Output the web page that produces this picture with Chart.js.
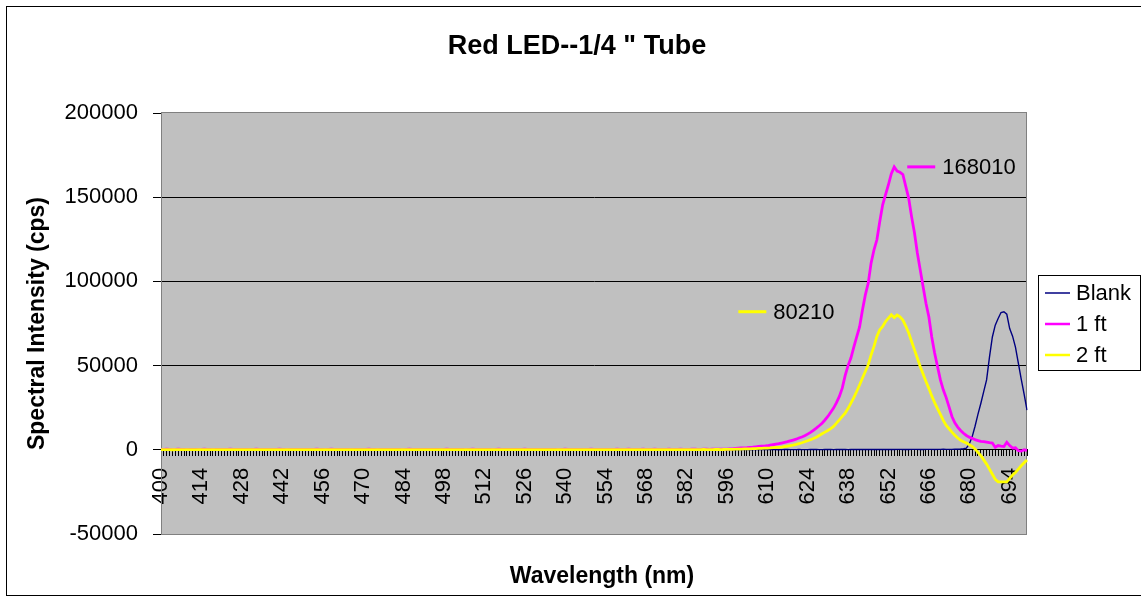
<!DOCTYPE html>
<html>
<head>
<meta charset="utf-8">
<title>Red LED--1/4 " Tube</title>
<script src="https://cdn.jsdelivr.net/npm/chart.js@4.4.1/dist/chart.umd.min.js"></script>
<style>
  html, body { margin: 0; padding: 0; background: #fff; }
  #chart { display: block; }
</style>
</head>
<body>
<canvas id="chart" width="1141" height="602"></canvas>
<script>
// wavelength categories (nm), one per reading
var wavelengths = [
  400, 401, 402, 403, 404, 405, 406, 407, 408, 409,
  410, 411, 412, 413, 414, 415, 416, 417, 418, 419,
  420, 421, 422, 423, 424, 425, 426, 427, 428, 429,
  430, 431, 432, 433, 434, 435, 436, 437, 438, 439,
  440, 441, 442, 443, 444, 445, 446, 447, 448, 449,
  450, 451, 452, 453, 454, 455, 456, 457, 458, 459,
  460, 461, 462, 463, 464, 465, 466, 467, 468, 469,
  470, 471, 472, 473, 474, 475, 476, 477, 478, 479,
  480, 481, 482, 483, 484, 485, 486, 487, 488, 489,
  490, 491, 492, 493, 494, 495, 496, 497, 498, 499,
  500, 501, 502, 503, 504, 505, 506, 507, 508, 509,
  510, 511, 512, 513, 514, 515, 516, 517, 518, 519,
  520, 521, 522, 523, 524, 525, 526, 527, 528, 529,
  530, 531, 532, 533, 534, 535, 536, 537, 538, 539,
  540, 541, 542, 543, 544, 545, 546, 547, 548, 549,
  550, 551, 552, 553, 554, 555, 556, 557, 558, 559,
  560, 561, 562, 563, 564, 565, 566, 567, 568, 569,
  570, 571, 572, 573, 574, 575, 576, 577, 578, 579,
  580, 581, 582, 583, 584, 585, 586, 587, 588, 589,
  590, 591, 592, 593, 594, 595, 596, 597, 598, 599,
  600, 601, 602, 603, 604, 605, 606, 607, 608, 609,
  610, 611, 612, 613, 614, 615, 616, 617, 618, 619,
  620, 621, 622, 623, 624, 625, 626, 627, 628, 629,
  630, 631, 632, 633, 634, 635, 636, 637, 638, 639,
  640, 641, 642, 643, 644, 645, 646, 647, 648, 649,
  650, 651, 652, 653, 654, 655, 656, 657, 658, 659,
  660, 661, 662, 663, 664, 665, 666, 667, 668, 669,
  670, 671, 672, 673, 674, 675, 676, 677, 678, 679,
  680, 681, 682, 683, 684, 685, 686, 687, 688, 689,
  690, 691, 692, 693, 694, 695, 696, 697, 698, 699,
  700
];

// only these categories get a label on the x axis
var tickLabels = [400, 414, 428, 442, 456, 470, 484, 498, 512, 526, 540,
                  554, 568, 582, 596, 610, 624, 638, 652, 666, 680, 694];

// Blank
var blank = [
  120, 80, 150, 200, 90, 60, 140, 180, 110, 70,
  130, 160, 90, 50, 120, 170, 140, 100, 60, 110,
  150, 190, 120, 80, 100, 140, 170, 130, 90, 60,
  110, 150, 180, 120, 70, 90, 140, 160, 110, 80,
  120, 170, 130, 90, 60, 100, 150, 180, 140, 90,
  70, 110, 160, 130, 80, 100, 150, 120, 90, 60,
  100, 140, 170, 120, 80, 110, 150, 130, 90, 70,
  120, 160, 140, 100, 60, 90, 130, 170, 120, 80,
  110, 150, 130, 90, 70, 120, 160, 140, 100, 60,
  90, 130, 170, 120, 80, 110, 150, 130, 90, 70,
  120, 160, 140, 100, 70, 90, 130, 160, 120, 80,
  110, 140, 170, 130, 90, 60, 100, 150, 120, 90,
  70, 110, 150, 130, 90, 120, 160, 140, 100, 70,
  90, 130, 160, 120, 80, 110, 150, 130, 90, 60,
  100, 140, 170, 120, 90, 70, 110, 150, 130, 90,
  120, 160, 140, 100, 70, 90, 130, 160, 120, 80,
  110, 150, 130, 90, 60, 100, 140, 170, 120, 90,
  70, 110, 150, 130, 90, 120, 160, 140, 100, 70,
  90, 130, 160, 120, 80, 110, 150, 130, 90, 60,
  100, 140, 170, 120, 90, 70, 110, 150, 130, 90,
  120, 160, 140, 100, 70, 90, 130, 160, 120, 80,
  110, 150, 130, 90, 60, 100, 140, 170, 120, 90,
  130, 160, 120, 90, 110, 150, 180, 140, 100, 120,
  150, 190, 160, 120, 140, 180, 210, 170, 130, 160,
  190, 220, 180, 150, 170, 210, 240, 200, 160, 190,
  220, 250, 210, 180, 200, 240, 260, 220, 190, 210,
  240, 270, 230, 200, 220, 260, 280, 240, 210, 230,
  260, 290, 250, 230, 260, 300, 350, 450, 600, 1000,
  3500, 7700, 14000, 21000, 27500, 34500, 41500, 55000, 67000, 74000,
  78000, 81500, 82000, 80500, 72000, 67500, 61000, 51500, 42000, 33000,
  23500
];

// 1 ft
var oneFoot = [
  250, 180, 320, 280, 150, 210, 340, 260, 190, 130,
  230, 300, 270, 160, 220, 350, 290, 200, 140, 240,
  310, 260, 180, 230, 330, 280, 170, 210, 300, 250,
  190, 140, 260, 320, 240, 170, 220, 310, 270, 180,
  230, 340, 290, 200, 150, 250, 310, 260, 190, 220,
  300, 240, 170, 210, 330, 280, 190, 150, 260, 320,
  250, 180, 220, 310, 270, 200, 140, 240, 300, 260,
  190, 230, 320, 280, 210, 160, 250, 310, 240, 180,
  220, 300, 270, 190, 150, 260, 330, 280, 200, 230,
  310, 250, 180, 220, 300, 260, 190, 140, 240, 320,
  270, 200, 230, 310, 250, 180, 160, 260, 330, 280,
  210, 240, 300, 260, 190, 150, 250, 320, 270, 200,
  230, 310, 280, 210, 170, 260, 330, 290, 220, 180,
  250, 300, 260, 190, 220, 310, 280, 200, 160, 240,
  320, 270, 210, 240, 300, 260, 190, 150, 250, 330,
  290, 220, 260, 310, 270, 200, 170, 240, 320, 280,
  230, 260, 330, 290, 220, 180, 260, 340, 300, 240,
  270, 320, 290, 230, 200, 280, 350, 310, 260, 290,
  340, 310, 260, 300, 360, 330, 280, 310, 370, 340,
  300, 350, 390, 360, 320, 380, 400, 500, 600, 800,
  1000, 1100, 1200, 1300, 1500, 1600, 1800, 2000, 2100, 2200,
  2400, 2700, 3000, 3300, 3600, 4000, 4400, 4800, 5300, 5800,
  6300, 7000, 7600, 8300, 9300, 10300, 11600, 12900, 14300, 15800,
  17700, 19800, 22300, 24800, 28000, 31700, 36600, 44000, 50000, 54500,
  61000, 67000, 73000, 83000, 92000, 99000, 111000, 118800, 124700, 135600,
  145500, 151500, 157400, 164000, 168010, 165500, 164800, 163500, 156400, 149500,
  138600, 129000, 117000, 107000, 97000, 87000, 79000, 67000, 57500, 49500,
  41500, 35600, 31000, 25500, 19800, 16000, 13500, 11500, 9800, 8500,
  7500, 6800, 6000, 5500, 5000, 4800, 4500, 4200, 4000, 1500,
  2500, 2200, 2000, 4500, 2500, 1000, 1200, -500, -800, 0,
  -300
];

// 2 ft
var twoFeet = [
  90, 60, 120, 80, 40, 110, 70, 50, 100, 60,
  80, 120, 90, 50, 70, 110, 130, 80, 60, 90,
  120, 70, 50, 100, 140, 90, 60, 80, 120, 100,
  70, 50, 90, 130, 110, 60, 80, 120, 90, 50,
  80, 130, 100, 70, 50, 90, 120, 80, 60, 100,
  130, 90, 60, 80, 120, 100, 70, 50, 90, 130,
  100, 60, 80, 120, 90, 70, 50, 100, 130, 90,
  60, 80, 120, 100, 70, 50, 90, 130, 100, 60,
  80, 120, 90, 60, 50, 100, 130, 90, 70, 80,
  120, 100, 60, 80, 130, 90, 70, 50, 100, 120,
  90, 60, 80, 130, 100, 70, 50, 90, 120, 100,
  70, 90, 130, 100, 60, 50, 90, 120, 110, 70,
  80, 120, 100, 70, 50, 100, 130, 90, 60, 80,
  110, 130, 90, 60, 80, 120, 100, 70, 50, 90,
  130, 100, 70, 90, 120, 100, 60, 50, 90, 130,
  110, 80, 100, 130, 100, 70, 60, 90, 130, 110,
  80, 100, 140, 110, 80, 70, 100, 140, 120, 90,
  110, 140, 120, 90, 80, 120, 150, 130, 110, 130,
  150, 130, 110, 130, 160, 150, 120, 140, 170, 150,
  140, 160, 180, 170, 150, 180, 200, 250, 300, 350,
  400, 450, 500, 550, 600, 650, 700, 800, 900, 950,
  1000, 1100, 1250, 1400, 1500, 1600, 1900, 2200, 2500, 2800,
  3200, 3700, 4200, 4800, 5400, 6000, 6700, 7500, 8500, 9500,
  10500, 11500, 12600, 13900, 15800, 17800, 19800, 21800, 24500, 27700,
  31000, 34600, 38500, 42600, 46500, 50500, 56400, 61400, 67300, 71300,
  73200, 76200, 78200, 80210, 78500, 80000, 79000, 77000, 73500, 69500,
  64500, 59500, 54500, 49500, 45000, 40500, 36500, 32000, 28000, 24500,
  21000, 17500, 14500, 12500, 10500, 8700, 7000, 5700, 4800, 4000,
  3000, 2000, 500, -1500, -3500, -6000, -8500, -11500, -14500, -17500,
  -19000, -19000, -19000, -19000, -17000, -15000, -13500, -11500, -9500, -7700,
  -6000
];

var chartTitle = 'Red LED--1/4 " Tube';
var xTitle = 'Wavelength (nm)';
var yTitle = 'Spectral Intensity (cps)';

var FONT = '"Liberation Sans", Arial, Helvetica, sans-serif';
Chart.defaults.font.family = FONT;
Chart.defaults.color = '#000';

// grey plot area, frame, titles, legend and the two peak call-outs
var excelLook = {
    id: 'excelLook',
    beforeDraw: function (chart) {
        var ctx = chart.ctx, a = chart.chartArea;
        ctx.save();
        ctx.fillStyle = '#fff';
        ctx.fillRect(0, 0, chart.width, chart.height);
        ctx.fillStyle = '#c0c0c0';
        ctx.fillRect(a.left, a.top, a.right - a.left, a.bottom - a.top);
        ctx.restore();
    },
    beforeDatasetsDraw: function (chart) {
        var ctx = chart.ctx, a = chart.chartArea;
        ctx.save();
        ctx.strokeStyle = '#808080';
        ctx.lineWidth = 1;
        ctx.strokeRect(Math.round(a.left) + 0.5, Math.round(a.top) - 0.5,
                       Math.round(a.right - a.left) - 1, Math.round(a.bottom - a.top) + 1);
        ctx.restore();
    },
    afterDraw: function (chart) {
        var ctx = chart.ctx, a = chart.chartArea;
        var xs = chart.scales.x, ys = chart.scales.y;
        ctx.save();

        // outer chart frame
        ctx.strokeStyle = '#000';
        ctx.lineWidth = 1;
        ctx.strokeRect(6.5, 6.5, chart.width + 10, chart.height - 13);

        // titles
        ctx.fillStyle = '#000';
        ctx.textAlign = 'center';
        ctx.textBaseline = 'middle';
        ctx.font = 'bold 27px ' + FONT;
        ctx.fillText(chartTitle, 577, 47);
        ctx.font = 'bold 23px ' + FONT;
        ctx.fillText(xTitle, 602, 577);

        // peak call-outs
        ctx.font = '22px ' + FONT;
        ctx.textAlign = 'left';
        var callouts = [
            { ds: 1, dx: 13, dy: 0 },
            { ds: 2, dx: -153, dy: -3 }
        ];
        callouts.forEach(function (c) {
            var d = chart.data.datasets[c.ds];
            var peak = Math.max.apply(null, d.data);
            var i = d.data.indexOf(peak);
            var px = xs.getPixelForValue(i) + c.dx;
            var py = ys.getPixelForValue(peak) + c.dy;
            ctx.strokeStyle = d.borderColor;
            ctx.lineWidth = 3;
            ctx.beginPath();
            ctx.moveTo(px, py);
            ctx.lineTo(px + 28, py);
            ctx.stroke();
            ctx.fillStyle = '#000';
            ctx.fillText(String(peak), px + 35, py + 1);
        });

        // legend
        var lx = 1038, ly = 275, lw = 102, lh = 95;
        ctx.fillStyle = '#fff';
        ctx.fillRect(lx, ly, lw, lh);
        ctx.strokeStyle = '#000';
        ctx.lineWidth = 1;
        ctx.strokeRect(lx + 0.5, ly + 0.5, lw, lh);
        chart.data.datasets.forEach(function (d, k) {
            var ry = ly + 18 + k * 31;
            ctx.strokeStyle = d.borderColor;
            ctx.lineWidth = k === 0 ? 1.5 : 2.5;
            ctx.beginPath();
            ctx.moveTo(lx + 7, ry);
            ctx.lineTo(lx + 32, ry);
            ctx.stroke();
            ctx.fillStyle = '#000';
            ctx.fillText(d.label, lx + 38, ry + 1);
        });
        ctx.restore();
    }
};

var ctx = document.getElementById('chart').getContext('2d');
var spectrumChart = new Chart(ctx, {
    type: 'line',
    data: {
        labels: wavelengths,
        datasets: [{
                label: 'Blank',
                data: blank,
                borderColor: '#000080',
                borderWidth: 1.4,
                order: 3
            },
            {
                label: '1 ft',
                data: oneFoot,
                borderColor: '#ff00ff',
                borderWidth: 2.8,
                order: 2
            },
            {
                label: '2 ft',
                data: twoFeet,
                borderColor: '#ffff00',
                borderWidth: 2.8,
                order: 1
            }
        ]
    },
    options: {
        responsive: false,
        animation: false,
        devicePixelRatio: 1,
        events: [],
        layout: {
            padding: { top: 113, bottom: 68, left: 20, right: 114 }
        },
        elements: {
            point: { radius: 0 },
            line: { tension: 0, fill: false }
        },
        plugins: {
            legend: { display: false },
            title: { display: false },
            tooltip: { enabled: false }
        },
        scales: {
            x: {
                type: 'category',
                position: { y: 0 },
                offset: false,
                grid: {
                    display: true,
                    drawOnChartArea: false,
                    drawTicks: true,
                    tickLength: 6,
                    color: '#000',
                    lineWidth: 1
                },
                border: { display: true, color: '#000', width: 1 },
                ticks: {
                    autoSkip: false,
                    minRotation: 90,
                    maxRotation: 90,
                    padding: 12,
                    font: { size: 22 },
                    callback: function (v, i) {
                        return tickLabels.indexOf(wavelengths[i]) >= 0 ? String(wavelengths[i]) : '';
                    }
                }
            },
            y: {
                min: -50000,
                max: 200000,
                afterFit: function (scale) { scale.width = 141; },
                grid: {
                    color: function (c) {
                        var v = c.tick && c.tick.value;
                        return (v === 200000 || v === -50000) ? 'rgba(0,0,0,0)' : '#000';
                    },
                    tickColor: '#000',
                    tickLength: 8,
                    lineWidth: 1
                },
                border: { display: true, color: '#000', width: 1 },
                ticks: {
                    stepSize: 50000,
                    padding: 15,
                    font: { size: 22 },
                    callback: function (v) { return String(v); }
                },
                title: {
                    display: true,
                    text: yTitle,
                    font: { size: 23, weight: 'bold' },
                    padding: { top: 4, bottom: 4 }
                }
            }
        }
    },
    plugins: [excelLook]
});
</script>
</body>
</html>
